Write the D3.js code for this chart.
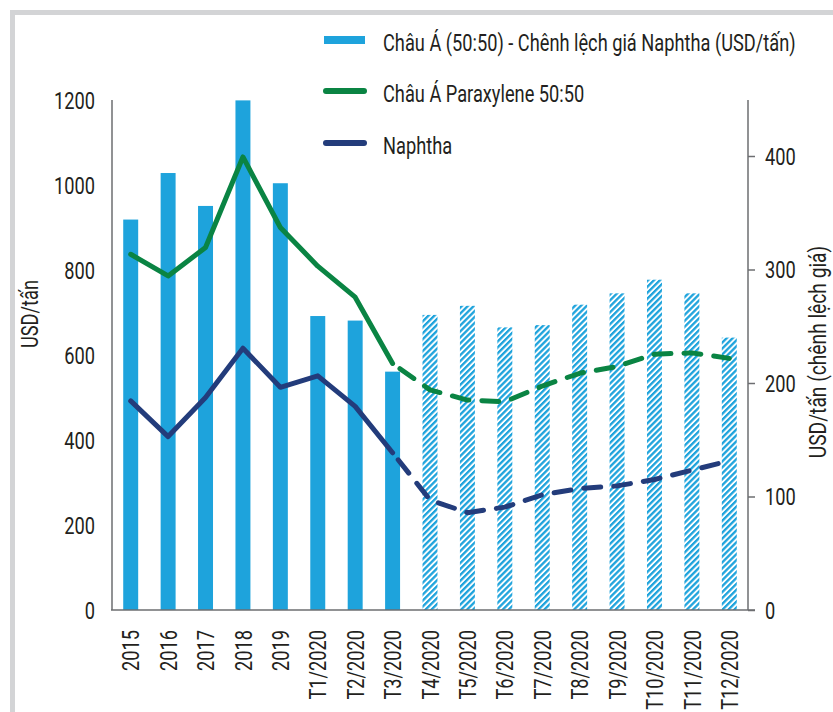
<!DOCTYPE html>
<html>
<head>
<meta charset="utf-8">
<script src="https://cdn.jsdelivr.net/npm/d3@7"></script>
<style>
  html, body { margin: 0; padding: 0; background: #fff; }
  svg { display: block; }
  text { font-family: Roboto, "Noto Sans", sans-serif; fill: #231f20; }
</style>
</head>
<body>
<svg id="chart" width="833" height="712"></svg>
<script>
// ---- Data ----
const categories = ["2015","2016","2017","2018","2019","T1/2020","T2/2020","T3/2020","T4/2020","T5/2020","T6/2020","T7/2020","T8/2020","T9/2020","T10/2020","T11/2020","T12/2020"];
const spread     = [344, 385, 356, 449, 376, 259, 255, 210, 260, 268, 249, 251, 269, 279, 291, 279, 240];
const paraxylene = [837, 786, 853, 1066, 900, 809, 736, 580, 518, 494, 490, 527, 557, 573, 602, 605, 592];
const naphtha    = [492, 408, 500, 616, 524, 551, 479, 370, 259, 229, 242, 271, 286, 292, 307, 329, 351];
const forecastStart = 8;   // index of first forecast month (T4/2020)
const leftTicks  = [0, 200, 400, 600, 800, 1000, 1200];
const rightTicks = [0, 100, 200, 300, 400];
const legendLabels = ["Châu Á (50:50) - Chênh lệch giá Naphtha (USD/tấn)", "Châu Á Paraxylene 50:50", "Naphtha"];

const colBar = "#1ea3dc", colGreen = "#0a8443", colNavy = "#233c7b", colAxis = "#6d6e71";
const FS = 24, SX = 0.76;   // font size and horizontal condensing

const svg = d3.select("#chart");

// frame
svg.append("path").attr("d", "M12.5,712 V12.5 H833").attr("fill", "none")
  .attr("stroke", "#d3d4d6").attr("stroke-width", 5);

// hatch pattern
const defs = svg.append("defs");
const pat = defs.append("pattern").attr("id", "hatch").attr("patternUnits", "userSpaceOnUse")
  .attr("width", 4.2).attr("height", 4.2).attr("patternTransform", "rotate(45)");
pat.append("rect").attr("width", 4.2).attr("height", 4.2).attr("fill", "#ffffff");
pat.append("rect").attr("width", 2.3).attr("height", 4.2).attr("fill", colBar);

// scales
const x = d3.scaleBand().domain(categories).range([112, 748]).paddingInner(0.6).paddingOuter(0.3);
const yL = d3.scaleLinear().domain([0, 1200]).range([610, 100]);
const yR = d3.scaleLinear().domain([0, 400]).range([610, 156]);

// bars
svg.append("g").selectAll("rect").data(categories).join("rect")
  .attr("x", d => x(d))
  .attr("width", x.bandwidth())
  .attr("y", (d, i) => yR(spread[i]))
  .attr("height", (d, i) => yR(0) - yR(spread[i]))
  .attr("fill", (d, i) => i >= forecastStart ? "url(#hatch)" : colBar);

// axes
const gL = svg.append("g").attr("transform", "translate(112,0)")
  .call(d3.axisLeft(yL).tickValues(leftTicks).tickSize(0).tickFormat(d3.format("d")));
gL.select(".domain").remove();
gL.selectAll("text").attr("font-size", FS).attr("font-family", null).attr("fill", null)
  .attr("x", -17 / SX).attr("dy", "0.35em").attr("transform", `scale(${SX},1)`);

const gR = svg.append("g").attr("transform", "translate(748,0)")
  .call(d3.axisRight(yR).tickValues(rightTicks).tickSize(7).tickFormat(d3.format("d")));
gR.select(".domain").remove();
gR.selectAll("line").attr("stroke", colAxis).attr("stroke-width", 1.5);
gR.selectAll("text").attr("font-size", FS).attr("font-family", null).attr("fill", null)
  .attr("x", 17 / SX).attr("dy", "0.35em").attr("transform", `scale(${SX},1)`);

const gX = svg.append("g").attr("transform", "translate(0,610)")
  .call(d3.axisBottom(x).tickSize(0));
gX.select(".domain").remove();
gX.selectAll("text").attr("font-size", FS).attr("font-family", null).attr("fill", null)
  .attr("transform", `rotate(-90) scale(${SX},1)`)
  .attr("text-anchor", "end")
  .attr("x", -20 / SX).attr("y", 0).attr("dy", "0.36em");

// axis lines
svg.append("line").attr("x1", 112).attr("x2", 112).attr("y1", yL(1200)).attr("y2", yL(0))
  .attr("stroke", colAxis).attr("stroke-width", 1.5);
svg.append("line").attr("x1", 748).attr("x2", 748).attr("y1", yL(1200)).attr("y2", yL(0))
  .attr("stroke", colAxis).attr("stroke-width", 1.5);
svg.append("line").attr("x1", 111).attr("x2", 755).attr("y1", yL(0)).attr("y2", yL(0))
  .attr("stroke", colAxis).attr("stroke-width", 1.5);

// lines
const cx = d => x(d) + x.bandwidth() / 2;
function drawLine(vals, color) {
  const pts = categories.map((c, i) => [cx(c), yL(vals[i])]);
  const line = d3.line();
  svg.append("path").attr("d", line(pts.slice(0, forecastStart)))
    .attr("fill", "none").attr("stroke", color).attr("stroke-width", 5)
    .attr("stroke-linejoin", "round").attr("stroke-linecap", "round");
  svg.append("path").attr("d", line(pts.slice(forecastStart - 1)))
    .attr("fill", "none").attr("stroke", color).attr("stroke-width", 5)
    .attr("stroke-dasharray", "17,13").attr("stroke-dashoffset", -9)
    .attr("stroke-linejoin", "round").attr("stroke-linecap", "round");
}
drawLine(paraxylene, colGreen);
drawLine(naphtha, colNavy);

// axis titles
svg.append("text").attr("transform", `translate(38,314) rotate(-90) scale(${SX},1)`)
  .attr("text-anchor", "middle").attr("font-size", FS).text("USD/tấn");
svg.append("text").attr("transform", `translate(826,352) rotate(-90) scale(0.8,1)`)
  .attr("text-anchor", "middle").attr("font-size", FS).text("USD/tấn (chênh lệch giá)");

// legend
const lg = svg.append("g");
const legY = [40, 91, 143];
lg.append("rect").attr("x", 324).attr("y", legY[0] - 4).attr("width", 41).attr("height", 8).attr("fill", colBar);
lg.append("line").attr("x1", 326).attr("x2", 364).attr("y1", legY[1]).attr("y2", legY[1])
  .attr("stroke", colGreen).attr("stroke-width", 6).attr("stroke-linecap", "round");
lg.append("line").attr("x1", 326).attr("x2", 364).attr("y1", legY[2]).attr("y2", legY[2])
  .attr("stroke", colNavy).attr("stroke-width", 6).attr("stroke-linecap", "round");
lg.selectAll("text.leg").data(legendLabels).join("text").attr("class", "leg")
  .attr("transform", (d, i) => `translate(383,${legY[i] + 10.5}) scale(${SX},1)`)
  .attr("font-size", FS).text(d => d);
</script>
</body>
</html>
